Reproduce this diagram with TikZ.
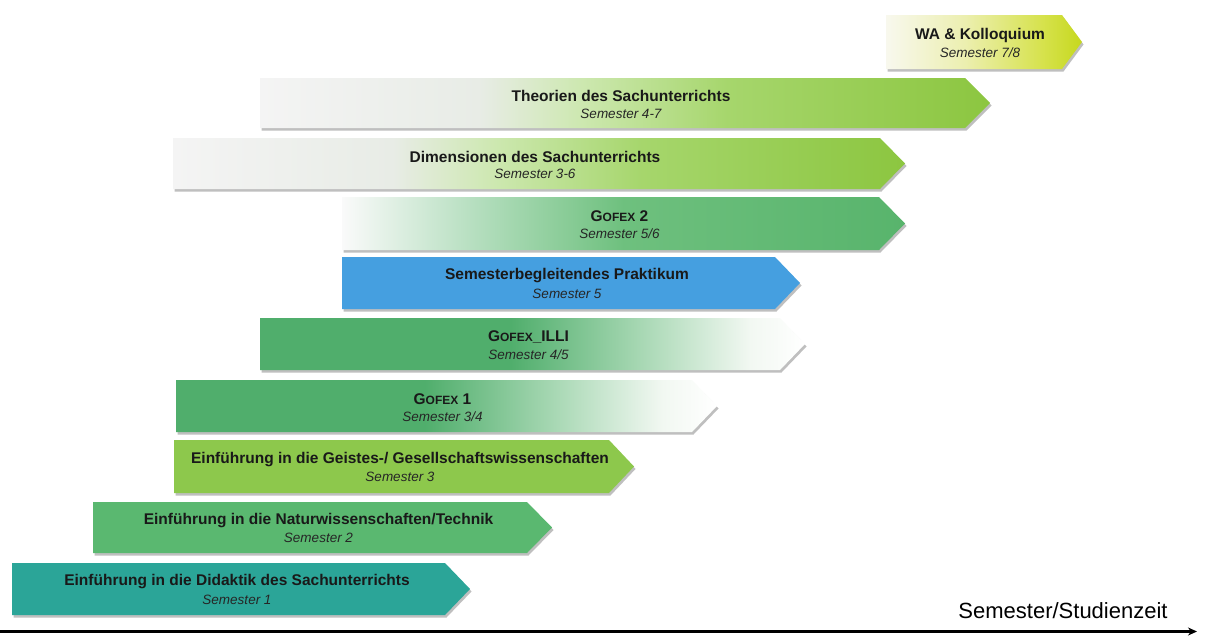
\documentclass[tikz,border=0pt]{standalone}
\usepackage{fontspec}
\setmainfont{Liberation Sans}
\usetikzlibrary{arrows.meta}
\definecolor{wa0}{HTML}{F8F8EE}
\definecolor{wa1}{HTML}{ECEFB0}
\definecolor{wa2}{HTML}{D6E24C}
\definecolor{wa3}{HTML}{C6D81E}
\definecolor{lg0}{HTML}{F4F4F4}
\definecolor{lg1}{HTML}{E8ECE6}
\definecolor{lg2}{HTML}{CDE8B0}
\definecolor{lg3}{HTML}{A6D66C}
\definecolor{lg4}{HTML}{8CC640}
\definecolor{gg0}{HTML}{FAFAFA}
\definecolor{gg1}{HTML}{B4DEBE}
\definecolor{gg2}{HTML}{6EC07E}
\definecolor{gg3}{HTML}{58B46C}
\definecolor{gf0}{HTML}{50AE6C}
\definecolor{gf1}{HTML}{A8D8B4}
\definecolor{gf2}{HTML}{F2F8F2}
\definecolor{blueP}{HTML}{459FE0}
\definecolor{yellowG}{HTML}{8DC84C}
\definecolor{greenN}{HTML}{5AB870}
\definecolor{tealD}{HTML}{2BA598}
\pgfdeclarehorizontalshading{shWA}{100bp}{color(0bp)=(wa0); color(25bp)=(wa0); color(45bp)=(wa1); color(65bp)=(wa2); color(75bp)=(wa3); color(100bp)=(wa3)}
\pgfdeclarehorizontalshading{shLG}{100bp}{color(0bp)=(lg0); color(25bp)=(lg0); color(40bp)=(lg1); color(47bp)=(lg2); color(57bp)=(lg3); color(75bp)=(lg4); color(100bp)=(lg4)}
\pgfdeclarehorizontalshading{shGG}{100bp}{color(0bp)=(gg0); color(25bp)=(gg0); color(37bp)=(gg1); color(50bp)=(gg2); color(75bp)=(gg3); color(100bp)=(gg3)}
\pgfdeclarehorizontalshading{shGF}{100bp}{color(0bp)=(gf0); color(25bp)=(gf0); color(48bp)=(gf0); color(60bp)=(gf1); color(70bp)=(gf2); color(75bp)=(white); color(100bp)=(white)}
\pgfdeclarehorizontalshading{shBL}{100bp}{color(0bp)=(blueP); color(100bp)=(blueP)}
\pgfdeclarehorizontalshading{shYG}{100bp}{color(0bp)=(yellowG); color(100bp)=(yellowG)}
\pgfdeclarehorizontalshading{shGN}{100bp}{color(0bp)=(greenN); color(100bp)=(greenN)}
\pgfdeclarehorizontalshading{shTE}{100bp}{color(0bp)=(tealD); color(100bp)=(tealD)}
\tikzset{
  titlet/.style={font=\fontsize{15.5}{16}\selectfont\bfseries, text=black!90, inner sep=0pt},
  subt/.style={font=\fontsize{13.5}{14}\selectfont\itshape, text=black!85, inner sep=0pt},
  shadowc/.style={fill=black!45, opacity=0.55},
  axislbl/.style={font=\fontsize{22}{23}\selectfont, inner sep=0pt},
}
% #1 left x, #2 tip x, #3 top y, #4 bottom y, #5 shading, #6 name, #7 title, #8 subtitle, #9 tip depth
\newcommand\chev[9]{%
  \pgfmathsetmacro\chm{(#3+#4)/2}%
  \pgfmathsetmacro\chb{#2-#9}%
  \pgfmathsetmacro\chc{(#1+#2)/2-4}%
  \fill[shadowc] (#1+1.5,#3+2.5) -- (\chb+1.5,#3+2.5) -- (#2+1.5,\chm+2.5) -- (\chb+1.5,#4+2.5) -- (#1+1.5,#4+2.5) -- cycle;
  \shade[shading=#5] (#1,#3) -- (\chb,#3) -- (#2,\chm) -- (\chb,#4) -- (#1,#4) -- cycle;
  \node[titlet] (#6) at (\chc,\chm-7) {#7};
  \node[subt] (#6-s) at (\chc,\chm+10.5) {#8};
}
\newcommand\gofex{G{\fontsize{12}{12}\selectfont OFEX}}
\begin{document}
\begin{tikzpicture}[x=1pt,y=-1pt]
\useasboundingbox[fill=white] (0,0) rectangle (1205,635);
\chev{886}{1082}{15}{69}{shWA}{wa}{WA \& Kolloquium}{Semester 7/8}{20}
\chev{260}{990}{78}{128}{shLG}{theo}{Theorien des Sachunterrichts}{Semester 4-7}{25}
\chev{173}{905}{138}{189}{shLG}{dim}{Dimensionen des Sachunterrichts}{Semester 3-6}{25}
\chev{342}{905}{197}{250}{shGG}{gofex2}{\gofex\ 2}{Semester 5/6}{26}
\chev{342}{800}{257}{309}{shBL}{prak}{Semesterbegleitendes Praktikum}{Semester 5}{25}
\chev{260}{805}{318}{370}{shGF}{illi}{\gofex\_ILLI}{Semester 4/5}{25}
\chev{176}{717}{380}{432}{shGF}{gofex1}{\gofex\ 1}{Semester 3/4}{25}
\chev{174}{634}{440}{493}{shYG}{geist}{Einführung in die Geistes-/ Gesellschaftswissenschaften}{Semester 3}{25}
\chev{93}{552}{502}{553}{shGN}{natur}{Einführung in die Naturwissenschaften/Technik}{Semester 2}{25}
\chev{12}{470}{563}{615}{shTE}{didak}{Einführung in die Didaktik des Sachunterrichts}{Semester 1}{25}
\coordinate (axs) at (0,631.5);
\coordinate (axe) at (1197,631.5);
\draw[line width=3pt, -{Stealth[length=9pt,width=8pt]}] (axs) -- (axe);
\node[axislbl] (axl) at (1063,611) {Semester/Studienzeit};
\end{tikzpicture}
\end{document}
